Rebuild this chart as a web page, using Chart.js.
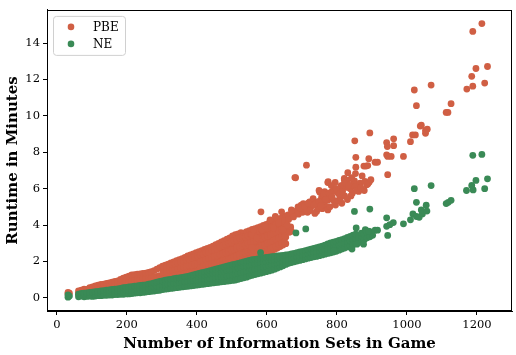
<!DOCTYPE html>
<html>
<head>
  <meta charset="UTF-8">
  <title>Runtime vs Information Sets</title>
  <script src="https://cdn.jsdelivr.net/npm/chart.js"></script>
  <style>
    body { margin: 0; background: #fff; }
    #wrap { width: 516px; height: 355px; }
  </style>
</head>
<body>
  <div id="wrap"><canvas id="scatter"></canvas></div>

  <script>
    // Values.
    // Dense part of each cloud: [number of information sets, [runtimes in minutes at that size]]
    const pbeColumns = [
      [32,[0.22,0.3]],[36,[0.26]],
      [62,[0.24,0.38]],[70,[0.28,0.42]],[78,[0.26,0.4,0.48]],[86,[0.3,0.46]],[94,[0.32,0.44,0.56]],
      [102,[0.34,0.5,0.6]],[110,[0.36,0.52,0.66]],[118,[0.38,0.56,0.7]],[126,[0.4,0.58,0.74]],
      [134,[0.42,0.6,0.76]],[142,[0.44,0.64,0.8]],[150,[0.46,0.66,0.82]],[158,[0.48,0.7,0.86]],
      [166,[0.5,0.72,0.9]],[174,[0.52,0.76,0.94]],[182,[0.54,0.8,1.02]],[190,[0.56,0.82,1.08]],
      [198,[0.58,0.86,1.14]],[206,[0.6,0.88,1.2]],[214,[0.62,0.92,1.26]],[222,[0.64,0.96,1.28]],
      [230,[0.66,0.98,1.3]],[238,[0.68,1.0,1.32]],[246,[0.7,1.04,1.34]],[254,[0.72,1.06,1.36]],
      [262,[0.74,1.08,1.4]],[270,[0.78,1.1,1.44]],[278,[0.8,1.14,1.5]],[286,[0.84,1.18,1.58]],
      [294,[0.86,1.22,1.66]],[302,[0.9,1.26,1.56,1.74]],[310,[0.92,1.3,1.6,1.8]],[318,[0.94,1.34,1.64,1.86]],
      [326,[0.98,1.38,1.7,1.92]],[334,[1.0,1.42,1.74,1.98]],[342,[1.02,1.46,1.78,2.04]],
      [350,[1.06,1.5,1.82,2.1]],[358,[1.08,1.52,1.88,2.16]],[366,[1.1,1.56,1.92,2.22]],
      [374,[1.14,1.58,1.96,2.3]],[382,[1.16,1.62,2.0,2.36]],[390,[1.18,1.66,2.04,2.42]],
      [398,[1.2,1.68,2.08,2.48]],[406,[1.22,1.5,1.84,2.16,2.54]],[414,[1.26,1.54,1.88,2.22,2.6]],
      [422,[1.28,1.58,1.92,2.28,2.66]],[430,[1.3,1.62,1.98,2.34,2.72]],[438,[1.34,1.66,2.02,2.4,2.78]],
      [446,[1.36,1.7,2.06,2.46,2.84]],[454,[1.38,1.74,2.12,2.52,2.92]],[462,[1.42,1.78,2.16,2.58,3.0]],
      [470,[1.46,1.82,2.22,2.64,3.08]],[478,[1.5,1.86,2.28,2.7,3.14]],[486,[1.54,1.9,2.32,2.76,3.22]],
      [494,[1.58,1.96,2.38,2.84,3.3]],[502,[1.64,2.02,2.44,2.9,3.4]],[510,[1.7,2.08,2.5,2.96,3.48]],
      [518,[1.76,2.14,2.56,3.02,3.52]],[526,[1.82,2.2,2.62,3.08,3.58]],[534,[1.88,2.26,2.68,3.14,3.56]],
      [542,[1.94,2.32,2.74,3.2,3.64]],[550,[2.0,2.38,2.8,3.26,3.7]],[558,[2.06,2.44,2.86,3.32,3.76]],
      [566,[2.12,2.5,2.92,3.38,3.8]],[574,[2.2,2.56,2.98,3.44,3.86]],[582,[2.26,2.62,3.04,3.5,3.92]],
      [590,[2.34,2.7,3.1,3.56,3.98]],[598,[2.42,2.78,3.18,3.62,4.04]],[606,[2.5,2.86,3.24,3.68,4.1]],
      [614,[2.58,2.94,3.32,3.74,4.16]],[622,[2.66,3.02,3.4,3.82,4.22]],[630,[2.74,3.1,3.48,3.9,4.3]],
      [638,[2.82,3.18,3.56,3.98,4.36]],[646,[2.9,3.26,3.64,4.04,4.42]],[654,[2.98,3.34,3.72,4.1,4.5]],
      [306,[1.08,1.42,1.66]],[314,[1.12,1.44,1.7]],[322,[1.15,1.5,1.76]],[330,[1.18,1.53,1.8]],
      [338,[1.22,1.58,1.87]],[346,[1.24,1.63,1.9]],[354,[1.27,1.66,1.97]],[362,[1.31,1.71,2.02]],
      [370,[1.33,1.73,2.08]],[378,[1.37,1.78,2.12]],[386,[1.39,1.8,2.19]],[394,[1.43,1.86,2.24]],
      [402,[1.45,1.88,2.29]],[410,[1.36,1.68,2.0,2.36]],[418,[1.41,1.72,2.06,2.4]],[426,[1.43,1.76,2.1,2.48]],
      [434,[1.47,1.8,2.17,2.52]],[442,[1.5,1.85,2.21,2.6]],[450,[1.54,1.88,2.27,2.66]],
      [458,[1.56,1.94,2.33,2.72]],[466,[1.61,1.97,2.38,2.8]],[474,[1.64,2.03,2.43,2.86]],
      [482,[1.69,2.07,2.5,2.93]],[490,[1.72,2.12,2.55,3.0]],[498,[1.78,2.17,2.62,3.06]],
      [506,[1.83,2.24,2.67,3.16]],[514,[1.9,2.29,2.74,3.22]],[522,[1.95,2.36,2.8,3.28]],
      [530,[2.02,2.41,2.86,3.34]],[538,[2.07,2.48,2.91,3.36]],[546,[2.14,2.53,2.98,3.42]],
      [554,[2.19,2.6,3.04,3.49]],[562,[2.26,2.65,3.1,3.54]],[570,[2.31,2.72,3.15,3.6]],
      [578,[2.38,2.77,3.22,3.66]],[586,[2.45,2.84,3.27,3.72]],[594,[2.52,2.9,3.34,3.78]],
      [602,[2.6,2.99,3.4,3.84]],[610,[2.68,3.05,3.47,3.9]],[618,[2.77,3.14,3.53,3.96]],
      [626,[2.84,3.21,3.62,4.02]],[634,[2.93,3.3,3.69,4.1]],[642,[3.0,3.37,3.78,4.18]],
      [650,[3.09,3.45,3.84,4.24]]
    ];
    const neColumns = [
      [32,[0.04,0.16]],[36,[0.1]],
      [62,[0.06,0.2]],[70,[0.1,0.24]],[78,[0.06,0.18,0.26]],[86,[0.08,0.2,0.28]],[94,[0.1,0.22,0.3]],
      [102,[0.08,0.2,0.32]],[110,[0.1,0.24,0.34]],[118,[0.12,0.26,0.36]],[126,[0.12,0.26,0.38]],
      [134,[0.14,0.28,0.4]],[142,[0.14,0.3,0.42]],[150,[0.16,0.32,0.44]],[158,[0.16,0.32,0.46]],
      [166,[0.18,0.34,0.48]],[174,[0.18,0.36,0.5]],[182,[0.2,0.38,0.52]],[190,[0.2,0.4,0.56]],
      [198,[0.22,0.42,0.58]],[206,[0.22,0.42,0.6]],[214,[0.24,0.44,0.62]],[222,[0.26,0.46,0.64]],
      [230,[0.28,0.48,0.66]],[238,[0.28,0.5,0.68]],[246,[0.3,0.52,0.7]],[254,[0.32,0.54,0.72]],
      [262,[0.34,0.56,0.76]],[270,[0.36,0.58,0.78]],[278,[0.38,0.6,0.82]],[286,[0.4,0.64,0.86]],
      [294,[0.42,0.66,0.9]],[302,[0.46,0.7,0.94]],[310,[0.48,0.72,0.98]],[318,[0.5,0.74,1.0]],
      [326,[0.52,0.78,1.02]],[334,[0.54,0.8,1.06]],[342,[0.56,0.82,1.08]],[350,[0.58,0.84,1.1]],
      [358,[0.6,0.86,1.12]],[366,[0.62,0.88,1.16]],[374,[0.64,0.9,1.18]],[382,[0.66,0.94,1.22]],
      [390,[0.68,0.96,1.26]],[398,[0.7,0.98,1.3]],[406,[0.72,0.98,1.2,1.34]],[414,[0.74,1.0,1.22,1.38]],
      [422,[0.76,1.02,1.26,1.42]],[430,[0.78,1.04,1.28,1.46]],[438,[0.8,1.06,1.32,1.5]],
      [446,[0.82,1.08,1.34,1.54]],[454,[0.84,1.1,1.38,1.58]],[462,[0.86,1.14,1.4,1.62]],
      [470,[0.88,1.16,1.44,1.66]],[478,[0.9,1.18,1.46,1.7]],[486,[0.92,1.2,1.5,1.74]],
      [494,[0.94,1.24,1.54,1.78]],[502,[0.96,1.26,1.56,1.82]],[510,[0.98,1.3,1.6,1.86]],
      [518,[1.02,1.34,1.64,1.9]],[526,[1.06,1.38,1.68,1.94]],[534,[1.1,1.42,1.72,1.98]],
      [542,[1.14,1.46,1.76,2.02]],[550,[1.2,1.5,1.8,2.06]],[558,[1.24,1.54,1.84,2.1]],
      [566,[1.28,1.58,1.88,2.12]],[574,[1.32,1.62,1.92,2.14]],[582,[1.36,1.66,1.94,2.18]],
      [590,[1.4,1.7,1.98,2.2]],[598,[1.44,1.74,2.0,2.22]],[606,[1.48,1.78,2.02,2.24]],
      [614,[1.52,1.82,2.06,2.26]],[622,[1.58,1.86,2.1,2.28]],[630,[1.64,1.9,2.14,2.3]],
      [638,[1.7,1.94,2.18,2.32]],[646,[1.76,1.98,2.2,2.34]],[654,[1.84,2.06,2.36]],
      [662,[1.9,2.12,2.38]],[670,[1.94,2.16,2.42]],[678,[1.98,2.2,2.44]],[686,[2.02,2.26,2.48]],
      [694,[2.06,2.3,2.52]],[702,[2.1,2.34,2.56]],[710,[2.14,2.38,2.6]],[718,[2.18,2.42,2.64]],
      [726,[2.22,2.46,2.68]],[734,[2.26,2.5,2.72]],[742,[2.28,2.54,2.76]],[750,[2.32,2.58,2.8]],
      [758,[2.36,2.62,2.84]],[766,[2.4,2.66,2.9]],[774,[2.44,2.7,2.96]],[782,[2.48,2.76,3.02]],
      [790,[2.52,2.8,3.06]],[798,[2.56,2.84,3.1]],[806,[2.62,2.9,3.16]],[814,[2.68,2.96,3.2]],
      [822,[2.74,3.02,3.26]],[830,[2.8,3.08,3.32]],[838,[2.86,3.14,3.38]],[846,[2.92,3.2,3.44]],
      [854,[2.98,3.26,3.5]],[862,[3.04,3.32]],[870,[3.1,3.38,3.56]],[878,[3.2,3.5]],[886,[3.3,3.6]],
      [894,[3.36,3.64]],[902,[3.44]]
    ];

    // Sparse points, one by one: [number of information sets, runtime in minutes]
    const pbeScatter = [
      [583,4.73],[557,2.77],[557,3.48],[571,3.3],[586,3.75],[595,3.93],[562,3.75],[619,3.84],
      [624,4.47],[609,4.29],[633,4.11],[642,4.73],[661,4.56],[652,3.39],[647,3.75],[670,3.66],
      [662,4.3],[668,3.9],[658,4.0],[664,3.6],[675,4.6],[676,4.45],[686,4.8],[690,4.6],[698,5.1],
      [702,4.7],[714,4.9],[716,4.7],[726,5.0],[728,5.1],[670,4.83],[689,5.0],[699,4.91],[713,4.83],
      [704,5.18],[722,5.27],[732,5.45],[737,4.64],[742,4.75],[746,4.91],[758,4.9],[765,5.09],[774,4.83],
      [774,5.36],[780,5.0],[788,5.4],[793,5.27],[796,5.1],[804,5.35],[814,5.2],[822,5.6],[830,5.4],
      [844,5.75],[740,5.2],[756,5.5],[760,5.3],[770,5.6],[782,5.6],[790,5.9],[800,5.8],[810,5.5],
      [838,6.0],[862,5.85],[751,5.81],[749,5.9],[765,5.84],[784,5.81],[807,5.95],[826,6.07],[859,6.06],
      [878,5.9],[885,6.22],[888,6.25],[850,6.43],[821,6.47],[774,6.34],[775,6.38],[795,6.34],[821,6.56],
      [784,6.17],[812,6.17],[818,6.2],[831,6.47],[848,6.34],[842,6.6],[866,6.3],[872,6.7],
      [694,4.95],[708,5.05],[718,5.2],[724,4.8],[734,5.1],[748,5.3],[754,5.05],[762,5.7],[768,5.4],
      [778,5.75],[786,5.55],[798,6.0],[806,5.7],[816,5.85],[824,6.3],[834,6.2],[840,5.6],[852,6.1],
      [856,5.9],[868,6.05],[880,6.4],[892,6.35],
      [680,6.61],[682,6.6],[713,7.29],[831,6.88],[853,6.83],[897,6.49],[854,7.72],[891,7.65],[909,7.45],
      [854,7.18],[877,7.24],[883,7.24],[888,7.27],[851,8.63],[894,9.06],[916,7.45],[945,6.77],[942,7.86],
      [945,7.77],[955,7.77],[990,7.77],[942,8.53],[944,8.31],[962,8.74],[962,8.36],[1010,8.58],
      [1016,8.95],[1024,8.95],[1038,9.44],[1041,9.49],[1053,9.2],[1058,9.27],[1053,9.04],[1027,10.56],
      [1112,10.19],[1117,10.19],[1126,10.67],[1021,11.42],[1069,11.69],[1171,11.47],[1188,11.63],
      [1185,12.17],[1222,11.8],[1197,12.6],[1230,12.71],[1188,14.64],[1214,15.07]
    ];
    const neScatter = [
      [909,3.72],[916,3.72],[942,3.93],[945,3.43],[951,4.02],[961,4.14],[942,4.4],[990,4.07],[1010,4.29],
      [1017,4.61],[1027,4.47],[1035,4.43],[1044,4.61],[1041,4.83],[1057,4.77],[1055,5.09],[1027,5.25],
      [1112,5.18],[1118,5.25],[1126,5.36],[1021,6.0],[1069,6.17],[1170,5.9],[1189,5.93],[1185,6.18],
      [1222,6.0],[1197,6.45],[1230,6.54],[1188,7.83],[1214,7.88],[850,4.75],[894,4.88],[855,3.84],
      [881,3.75],[890,3.66],[711,3.79],[683,3.57],[582,2.48],[876,2.95],[857,2.95],[843,2.68],[791,2.59]
    ];

    const seriesNames = ['PBE', 'NE'];
    const seriesColors = ['#d05f44', '#3a8a56'];
    const xTicks = [0, 200, 400, 600, 800, 1000, 1200];
    const yTicks = [0, 2, 4, 6, 8, 10, 12, 14];

    const serif = "'DejaVu Serif', 'Liberation Serif', serif";

    function toPoints(columns, scatter) {
      const pts = [];
      columns.forEach(([x, ys]) => ys.forEach(y => pts.push({ x: x, y: y })));
      scatter.forEach(([x, y]) => pts.push({ x: x, y: y }));
      return pts;
    }

    // matplotlib style closed frame round the plot
    const framePlugin = {
      id: 'frame',
      afterDatasetsDraw(chart) {
        const a = chart.chartArea;
        const ctx = chart.ctx;
        ctx.save();
        ctx.strokeStyle = '#000';
        ctx.lineWidth = 1;
        ctx.strokeRect(Math.round(a.left) + 0.5, Math.round(a.top) + 0.5,
          Math.round(a.right - a.left) - 1, Math.round(a.bottom - a.top) - 1);
        ctx.restore();
      }
    };

    // legend box in the upper left corner of the plot
    const legendPlugin = {
      id: 'boxLegend',
      afterDatasetsDraw(chart) {
        const a = chart.chartArea;
        const ctx = chart.ctx;
        const x0 = a.left + 6, y0 = a.top + 6;
        ctx.save();
        ctx.beginPath();
        ctx.roundRect(x0 + 0.5, y0 + 0.5, 72, 39, 3);
        ctx.fillStyle = 'rgba(255,255,255,0.8)';
        ctx.fill();
        ctx.strokeStyle = '#d0d0d0';
        ctx.stroke();
        ctx.font = '12px ' + serif;
        ctx.textBaseline = 'middle';
        chart.data.datasets.forEach((ds, i) => {
          const cy = y0 + 11 + i * 17;
          ctx.beginPath();
          ctx.arc(x0 + 18, cy, 3.3, 0, Math.PI * 2);
          ctx.fillStyle = ds.backgroundColor;
          ctx.fill();
          ctx.fillStyle = '#000';
          ctx.fillText(ds.label, x0 + 40, cy + 1);
        });
        ctx.restore();
      }
    };

    const ctx = document.getElementById('scatter').getContext('2d');
    new Chart(ctx, {
      type: 'scatter',
      data: {
        datasets: [
          {
            label: seriesNames[0],
            data: toPoints(pbeColumns, pbeScatter),
            backgroundColor: seriesColors[0],
            borderWidth: 0,
            pointRadius: 3.4,
            order: 1
          },
          {
            label: seriesNames[1],
            data: toPoints(neColumns, neScatter),
            backgroundColor: seriesColors[1],
            borderWidth: 0,
            pointRadius: 3.4,
            order: 0
          }
        ]
      },
      options: {
        responsive: true,
        maintainAspectRatio: false,
        animation: false,
        layout: { padding: { top: 3, right: 3, left: 0, bottom: 0 } },
        plugins: {
          legend: { display: false },
          tooltip: { enabled: false }
        },
        scales: {
          x: {
            type: 'linear',
            min: -28,
            max: 1300,
            afterBuildTicks: s => { s.ticks = xTicks.map(v => ({ value: v })); },
            afterFit: s => { s.height = 44; },
            ticks: {
              color: '#000',
              font: { family: serif, size: 11.5 },
              padding: 3,
              maxRotation: 0,
              callback: v => String(v)
            },
            grid: { drawOnChartArea: false, color: '#000', tickLength: 4 },
            border: { display: true, color: '#000' },
            title: {
              display: true,
              text: 'Number of Information Sets in Game',
              color: '#000',
              font: { family: serif, size: 15, weight: 'bold' },
              padding: { top: 0, bottom: 2 }
            }
          },
          y: {
            type: 'linear',
            min: -0.72,
            max: 15.82,
            afterBuildTicks: s => { s.ticks = yTicks.map(v => ({ value: v })); },
            afterFit: s => { s.width = 47; },
            ticks: {
              color: '#000',
              font: { family: serif, size: 11.5 },
              padding: 3,
              callback: v => String(v)
            },
            grid: { drawOnChartArea: false, color: '#000', tickLength: 4 },
            border: { display: true, color: '#000' },
            title: {
              display: true,
              text: 'Runtime in Minutes',
              color: '#000',
              font: { family: serif, size: 15, weight: 'bold' },
              padding: { top: 4, bottom: 0 }
            }
          }
        }
      },
      plugins: [framePlugin, legendPlugin]
    });
  </script>
</body>
</html>
